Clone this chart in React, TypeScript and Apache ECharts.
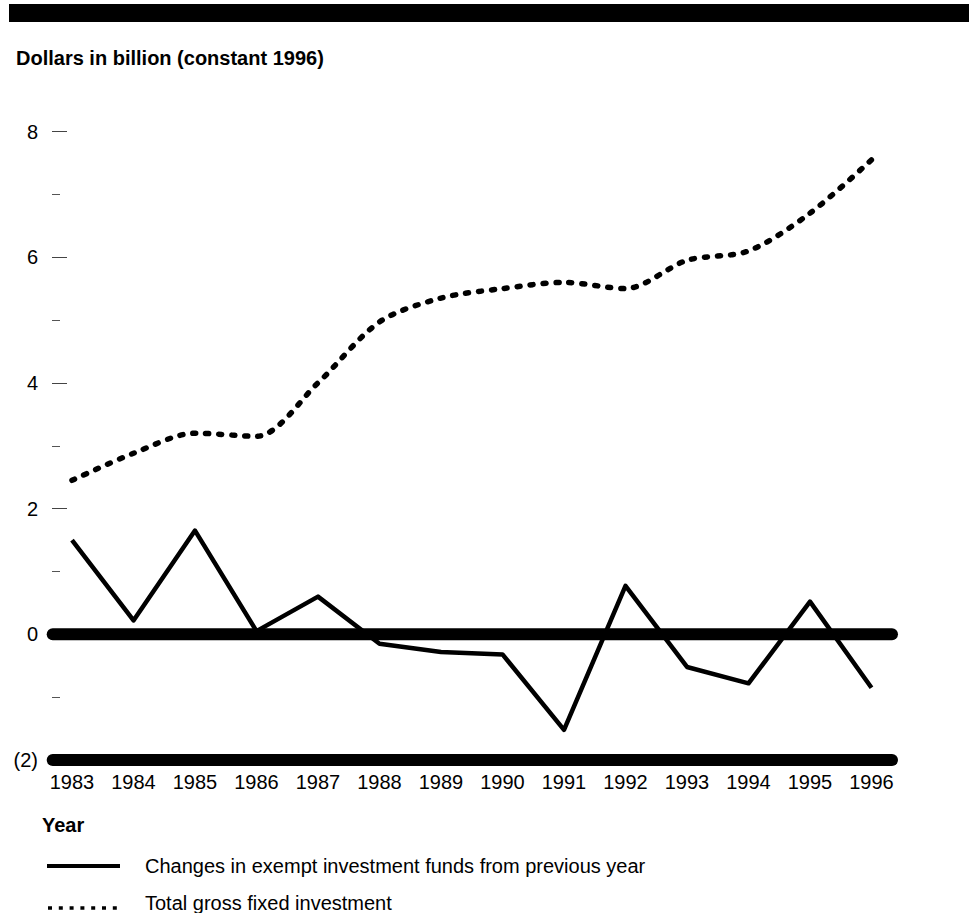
import React, { useEffect, useRef } from "react";
import * as echarts from "echarts";

const years = [1983, 1984, 1985, 1986, 1987, 1988, 1989, 1990, 1991, 1992, 1993, 1994, 1995, 1996];
const exemptChanges = [1.5, 0.22, 1.65, 0.05, 0.6, -0.15, -0.28, -0.32, -1.52, 0.77, -0.52, -0.78, 0.52, -0.85];
const grossFixed = [2.45, 2.88, 3.2, 3.15, 4.0, 4.97, 5.35, 5.5, 5.6, 5.5, 5.95, 6.1, 6.7, 7.55];
const baselineValues = [0, -2];
const baselineExtent = [0, 1];
const yTicks = { min: -2, max: 8, interval: 2 };

const titleText = "Dollars in billion (constant 1996)";
const xTitle = "Year";
const legendSolid = "Changes in exempt investment funds from previous year";
const legendDotted = "Total gross fixed investment";

const FONT = "'Liberation Sans', Arial, Helvetica, sans-serif";

export default function App() {
  const ref = useRef<HTMLDivElement>(null);

  useEffect(() => {
    if (!ref.current) return;
    const chart = echarts.init(ref.current, undefined, { renderer: "svg" });

    const baseSeries = baselineValues.map((v) => ({
      type: "line",
      xAxisIndex: 1,
      yAxisIndex: 1,
      data: baselineExtent.map((x) => [x, v]),
      symbol: "none",
      clip: false,
      silent: true,
      z: 1,
      lineStyle: { color: "#000", width: 12, cap: "round" },
    }));

    chart.setOption({
      animation: false,
      backgroundColor: "#fff",
      textStyle: { fontFamily: FONT },
      grid: [
        { left: 72, right: 97.5, top: 131.5, bottom: 153 },
        { left: 52.7, right: 77, top: 131.5, bottom: 153 },
      ],
      xAxis: [
        {
          type: "value",
          gridIndex: 0,
          min: years[0],
          max: years[years.length - 1],
          interval: 1,
          axisLine: { show: false },
          axisTick: { show: false },
          splitLine: { show: false },
          axisLabel: {
            margin: 12,
            color: "#000",
            fontSize: 20,
            fontFamily: FONT,
            formatter: (v: number) => String(v),
          },
        },
        { type: "value", gridIndex: 1, min: 0, max: 1, show: false },
      ],
      yAxis: [
        {
          type: "value",
          gridIndex: 0,
          min: yTicks.min,
          max: yTicks.max,
          interval: yTicks.interval,
          offset: 20,
          axisLine: { show: false },
          splitLine: { show: false },
          axisTick: { show: true, inside: true, length: 15, lineStyle: { color: "#444", width: 1 } },
          minorTick: { show: true, splitNumber: 2, length: 8, lineStyle: { color: "#555", width: 1 } },
          axisLabel: {
            margin: 14,
            color: "#000",
            fontSize: 20,
            fontFamily: FONT,
            formatter: (v: number) => (v < 0 ? `(${-v})` : String(v)),
          },
        },
        { type: "value", gridIndex: 1, min: yTicks.min, max: yTicks.max, show: false },
      ],
      series: [
        ...baseSeries,
        {
          type: "line",
          name: legendDotted,
          data: years.map((y, i) => [y, grossFixed[i]]),
          symbol: "none",
          smooth: 0.3,
          z: 2,
          lineStyle: { color: "#000", width: 5.5, type: [3, 10], cap: "round" },
        },
        {
          type: "line",
          name: legendSolid,
          data: years.map((y, i) => [y, exemptChanges[i]]),
          symbol: "none",
          z: 3,
          lineStyle: { color: "#000", width: 4.5, join: "round" },
        },
      ],
      graphic: [
        { type: "rect", shape: { x: 9, y: 4, width: 960, height: 18 }, style: { fill: "#000" } },
        {
          type: "text",
          x: 16,
          y: 58,
          style: { text: titleText, fill: "#000", font: `bold 20px ${FONT}`, textVerticalAlign: "middle" },
        },
        {
          type: "text",
          x: 42,
          y: 825,
          style: { text: xTitle, fill: "#000", font: `bold 20px ${FONT}`, textVerticalAlign: "middle" },
        },
        {
          type: "line",
          shape: { x1: 47, y1: 866, x2: 120, y2: 866 },
          style: { stroke: "#000", lineWidth: 4 },
        },
        {
          type: "text",
          x: 145,
          y: 866,
          style: { text: legendSolid, fill: "#000", font: `20px ${FONT}`, textVerticalAlign: "middle" },
        },
        {
          type: "line",
          shape: { x1: 48, y1: 908, x2: 117, y2: 908 },
          style: { stroke: "#000", lineWidth: 3.5, lineDash: [4, 6.8] },
        },
        {
          type: "text",
          x: 145,
          y: 903,
          style: { text: legendDotted, fill: "#000", font: `20px ${FONT}`, textVerticalAlign: "middle" },
        },
      ],
    });

    return () => chart.dispose();
  }, []);

  return (
    <div
      ref={ref}
      style={{ position: "absolute", left: 0, top: 0, width: 969, height: 913 }}
    />
  );
}
